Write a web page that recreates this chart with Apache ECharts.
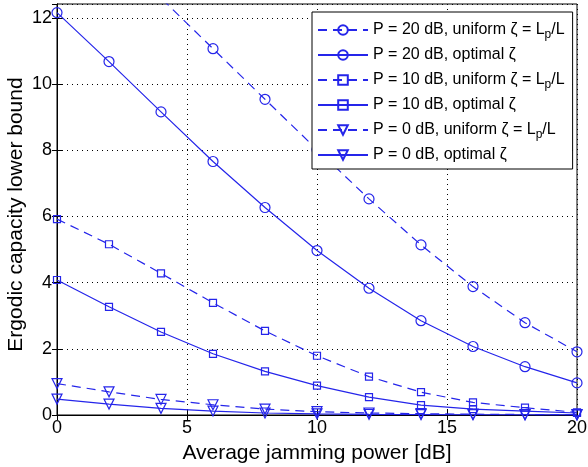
<!DOCTYPE html>
<html><head><meta charset="utf-8">
<script src="https://cdn.jsdelivr.net/npm/echarts@6/dist/echarts.min.js"></script>
<style>html,body{margin:0;padding:0;background:#fff}#c{width:588px;height:467px}</style>
</head><body><div id="c"></div>
<script>
var xVals = [0, 2, 4, 6, 8, 10, 12, 14, 16, 18, 20];
var p20Uniform = [15.8, 14.2, 12.6, 11.07, 9.54, 8.02, 6.53, 5.14, 3.88, 2.79, 1.91];
var p20Optimal = [12.16, 10.68, 9.16, 7.66, 6.27, 4.97, 3.83, 2.85, 2.07, 1.46, 0.97];
var p10Uniform = [5.92, 5.16, 4.28, 3.39, 2.54, 1.79, 1.16, 0.69, 0.38, 0.22, 0.08];
var p10Optimal = [4.08, 3.27, 2.51, 1.85, 1.32, 0.89, 0.54, 0.30, 0.18, 0.12, 0.06];
var p0Uniform = [0.95, 0.70, 0.47, 0.31, 0.18, 0.10, 0.06, 0.04, 0.025, 0.015, 0.01];
var p0Optimal = [0.48, 0.33, 0.20, 0.12, 0.06, 0.035, 0.02, 0.012, 0.008, 0.005, 0.004];
var xTicks = [0, 5, 10, 15, 20];
var yTicks = [0, 2, 4, 6, 8, 10, 12];
var seriesNames = [
  'P = 20 dB, uniform ζ = Lp/L',
  'P = 20 dB, optimal ζ',
  'P = 10 dB, uniform ζ = Lp/L',
  'P = 10 dB, optimal ζ',
  'P = 0 dB, uniform ζ = Lp/L',
  'P = 0 dB, optimal ζ'
];

var BLUE = '#2525ea';
var FONT = 'Liberation Sans, Arial, sans-serif';
function pairs(arr) { return xVals.map(function (x, i) { return [x, arr[i]]; }); }
function mk(name, arr, dashed, symbol, size, rot) {
  return {
    name: name, type: 'line', data: pairs(arr), clip: true,
    symbol: symbol, symbolSize: size, symbolRotate: rot || 0, showAllSymbol: true,
    lineStyle: { color: BLUE, width: 1.2, type: dashed ? [9, 6] : 'solid' },
    itemStyle: { color: 'rgba(255,255,255,0)', borderColor: BLUE, borderWidth: 1.2 },
    emphasis: { disabled: true }, animation: false
  };
}
var chart = echarts.init(document.getElementById('c'));
chart.setOption({
  animation: false,
  textStyle: { fontFamily: FONT },
  grid: { left: 57, right: 11, top: 4, bottom: 52, show: true, borderColor: '#000', borderWidth: 1,
          backgroundColor: '#fff', containLabel: false, outerBoundsMode: 'none' },
  legend: {
    orient: 'vertical', left: 312, top: 12, width: 259,
    backgroundColor: '#fff', borderColor: '#000', borderWidth: 1,
    padding: [7, 8, 6, 5], itemGap: 6, itemWidth: 50, itemHeight: 12,
    symbolRotate: 'inherit',
    data: seriesNames,
    textStyle: { fontFamily: FONT, fontSize: 16, color: '#000',
      rich: { n: { fontFamily: FONT, fontSize: 16, color: '#000', lineHeight: 18 },
              s: { fontFamily: FONT, fontSize: 12, color: '#000', lineHeight: 18, padding: [10, 0, 0, 0] } } },
    formatter: function (name) {
      if (name.indexOf('Lp/L') >= 0) {
        return '{n|' + name.replace('Lp/L', 'L') + '}{s|p}{n|/L}';
      }
      return '{n|' + name + '}';
    }
  },
  xAxis: [{
    type: 'value', min: 0, max: 20, interval: 5,
    name: 'Average jamming power [dB]', nameLocation: 'middle', nameGap: 28, nameMoveOverlap: false,
    nameTextStyle: { fontFamily: FONT, fontSize: 21, color: '#000' },
    axisLine: { show: true, lineStyle: { color: '#000', width: 1 } },
    axisTick: { show: true, inside: true, length: 5, lineStyle: { color: '#000' } },
    axisLabel: { fontFamily: FONT, fontSize: 18, color: '#000', margin: 4,
      formatter: function (v) { return xTicks.indexOf(v) >= 0 ? String(v) : ''; } },
    splitLine: { show: true, lineStyle: { color: '#000', type: [1, 4], width: 1 } }
  }, {
    type: 'value', min: 0, max: 20, interval: 5, position: 'top',
    axisLine: { show: true, lineStyle: { color: '#000' } },
    axisTick: { show: true, inside: true, length: 5, lineStyle: { color: '#000' } },
    axisLabel: { show: false }, splitLine: { show: false }
  }],
  yAxis: [{
    type: 'value', min: 0, max: 12.42, interval: 2,
    name: 'Ergodic capacity lower bound', nameLocation: 'middle', nameGap: 30, nameMoveOverlap: false,
    nameTextStyle: { fontFamily: FONT, fontSize: 21, color: '#000', padding: [0, 10, 0, 0] },
    axisLine: { show: true, lineStyle: { color: '#000', width: 1 } },
    axisTick: { show: true, inside: true, length: 5, lineStyle: { color: '#000' } },
    axisLabel: { fontFamily: FONT, fontSize: 18, color: '#000', margin: 5, showMaxLabel: false,
      formatter: function (v) { return yTicks.indexOf(v) >= 0 ? String(v) : ''; } },
    splitLine: { show: true, lineStyle: { color: '#000', type: [1, 4], width: 1 } }
  }, {
    type: 'value', min: 0, max: 12.42, interval: 2, position: 'right',
    axisLine: { show: true, lineStyle: { color: '#000' } },
    axisTick: { show: true, inside: true, length: 5, lineStyle: { color: '#000' } },
    axisLabel: { show: false }, splitLine: { show: false }
  }],
  series: [
    mk(seriesNames[0], p20Uniform, true, 'circle', 10),
    mk(seriesNames[1], p20Optimal, false, 'circle', 10),
    mk(seriesNames[2], p10Uniform, true, 'rect', 7),
    mk(seriesNames[3], p10Optimal, false, 'rect', 7),
    mk(seriesNames[4], p0Uniform, true, 'triangle', 10, 180),
    mk(seriesNames[5], p0Optimal, false, 'triangle', 10, 180)
  ]
});
</script></body></html>
